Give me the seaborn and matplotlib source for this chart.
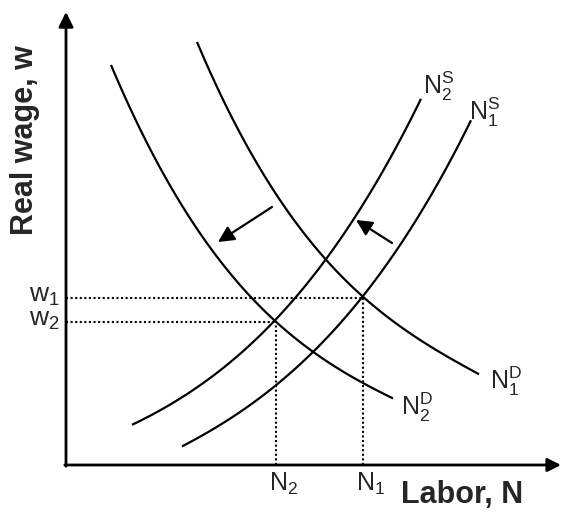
import matplotlib
matplotlib.use("Agg")
import matplotlib.pyplot as plt
import seaborn as sns
import pandas as pd

# ---- data (labor N, real wage w) ----
nd1_labor = [1.31, 1.56, 1.92, 2.14, 2.59, 2.97, 3.24, 3.57, 4.13]
nd1_wage = [4.22, 3.68, 3.02, 2.65, 2.04, 1.67, 1.47, 1.25, 0.90]
nd2_labor = [0.45, 0.67, 0.93, 1.23, 1.47, 1.82, 2.10, 2.51, 2.97, 3.27]
nd2_wage = [3.98, 3.52, 3.02, 2.47, 2.15, 1.67, 1.43, 1.12, 0.84, 0.65]
ns2_labor = [0.66, 1.09, 1.42, 1.69, 1.92, 2.10, 2.59, 2.87, 3.21, 3.55]
ns2_wage = [0.39, 0.65, 0.87, 1.07, 1.27, 1.43, 2.04, 2.45, 3.05, 3.64]
ns1_labor = [1.16, 1.59, 1.92, 2.11, 2.51, 2.97, 3.32, 3.67, 4.05]
ns1_wage = [0.17, 0.45, 0.68, 0.82, 1.12, 1.67, 2.18, 2.78, 3.42]

eq_labor = [2.97, 2.10]   # N1, N2
eq_wage = [1.67, 1.43]    # w1, w2
eq_names_n = [r"$\mathrm{N}_1$", r"$\mathrm{N}_2$"]
eq_names_w = [r"$\mathrm{w}_1$", r"$\mathrm{w}_2$"]

curve_labels = [r"$\mathrm{N}_1^\mathrm{D}$", r"$\mathrm{N}_2^\mathrm{D}$",
                r"$\mathrm{N}_2^\mathrm{S}$", r"$\mathrm{N}_1^\mathrm{S}$"]

sns.set_theme(style="white")
plt.rcParams["font.family"] = ["Liberation Sans", "DejaVu Sans"]
plt.rcParams["mathtext.fontset"] = "custom"
plt.rcParams["mathtext.rm"] = "Liberation Sans"
plt.rcParams["mathtext.it"] = "Liberation Sans"
plt.rcParams["mathtext.bf"] = "Liberation Sans:bold"

fig = plt.figure(figsize=(5.61, 5.12), dpi=100)
ax = fig.add_axes([0, 0, 1, 1])

curves = [(nd1_labor, nd1_wage), (nd2_labor, nd2_wage),
          (ns2_labor, ns2_wage), (ns1_labor, ns1_wage)]
for xs, ys in curves:
    df = pd.DataFrame({"N": xs, "w": ys})
    sns.regplot(data=df, x="N", y="w", order=3, ci=None, scatter=False,
                truncate=True, color="black", ax=ax,
                line_kws={"linewidth": 1.6, "solid_capstyle": "butt"})

ax.set_xlim(-0.66, 4.95)
ax.set_ylim(-0.47, 4.65)
ax.axis("off")

# dotted guides
dot = (0, (1.0, 1.2))
for n, w in zip(eq_labor, eq_wage):
    ax.plot([0, n], [w, w], color="black", lw=1.5, linestyle=dot)
    ax.plot([n, n], [0, w], color="black", lw=1.5, linestyle=dot)

# axes with arrows
ax.annotate("", xy=(0, 4.53), xytext=(0, -0.012),
            arrowprops=dict(arrowstyle="-|>", color="black", lw=2,
                            mutation_scale=22, shrinkA=0, shrinkB=0))
ax.annotate("", xy=(4.95, 0), xytext=(-0.012, 0),
            arrowprops=dict(arrowstyle="-|>", color="black", lw=2,
                            mutation_scale=20, shrinkA=0, shrinkB=0))

# shift arrows
ax.annotate("", xy=(1.52, 2.23), xytext=(2.06, 2.58),
            arrowprops=dict(arrowstyle="-|>", color="black", lw=1.6,
                            mutation_scale=24, shrinkA=0, shrinkB=0))
ax.annotate("", xy=(2.90, 2.45), xytext=(3.26, 2.22),
            arrowprops=dict(arrowstyle="-|>", color="black", lw=1.6,
                            mutation_scale=24, shrinkA=0, shrinkB=0))

fs = 18
# curve labels
label_pos = [(4.24, 0.76), (3.35, 0.50), (3.57, 3.71), (4.03, 3.45)]
for (lx, ly), t in zip(label_pos, curve_labels):
    ax.text(lx, ly, t, fontsize=fs, ha="left", va="baseline")

# equilibrium labels
for n, t in zip(eq_labor, eq_names_n):
    ax.text(n - 0.07, -0.26, t, fontsize=fs, ha="left", va="baseline")
for w, t in zip(eq_wage, eq_names_w):
    ax.text(-0.37, w - 0.04, t, fontsize=19, ha="left", va="baseline")

# axis titles
ax.text(-0.41, 3.25, "Real wage, w", fontsize=22, fontweight="bold",
        rotation=90, ha="center", va="center")
ax.text(3.96, -0.385, "Labor, N", fontsize=22, fontweight="bold",
        ha="center", va="baseline")

fig.savefig("out.png", dpi=100)
